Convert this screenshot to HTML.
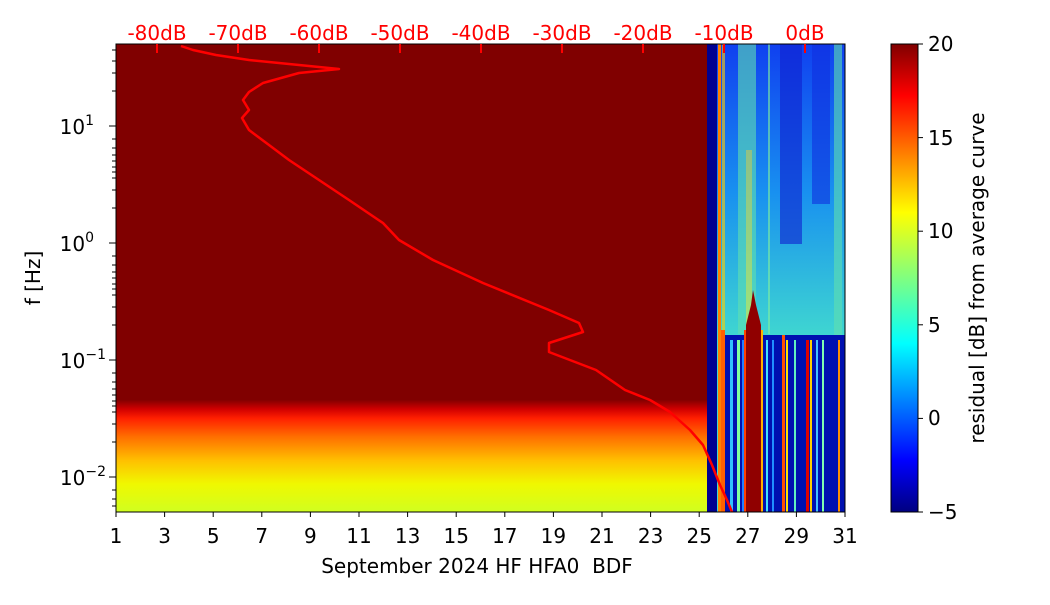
<!DOCTYPE html>
<html><head><meta charset="utf-8"><style>
html,body{margin:0;padding:0;background:#fff;}
svg text{font-family:"DejaVu Sans","Liberation Sans",sans-serif;}
</style></head><body>
<svg width="1050" height="600" xmlns="http://www.w3.org/2000/svg">
<defs>
<linearGradient id="lg" x1="0" y1="44" x2="0" y2="512" gradientUnits="userSpaceOnUse">
<stop offset="0" stop-color="#800000"/>
<stop offset="0.76" stop-color="#800000"/>
<stop offset="0.78" stop-color="#d00000"/>
<stop offset="0.8" stop-color="#ff2000"/>
<stop offset="0.84" stop-color="#ff7000"/>
<stop offset="0.89" stop-color="#ffc000"/>
<stop offset="0.94" stop-color="#f0f800"/>
<stop offset="1" stop-color="#d0ff20"/>
</linearGradient>
<linearGradient id="cb" x1="0" y1="44" x2="0" y2="512" gradientUnits="userSpaceOnUse">
<stop offset="0" stop-color="#800000"/>
<stop offset="0.11" stop-color="#ff0000"/>
<stop offset="0.36" stop-color="#ffff00"/>
<stop offset="0.5" stop-color="#80ff80"/>
<stop offset="0.64" stop-color="#00ffff"/>
<stop offset="0.89" stop-color="#0000ff"/>
<stop offset="1" stop-color="#000080"/>
</linearGradient>
<linearGradient id="up" x1="0" y1="44" x2="0" y2="340" gradientUnits="userSpaceOnUse">
<stop offset="0" stop-color="#1040f0"/>
<stop offset="0.5" stop-color="#1890f0"/>
<stop offset="1" stop-color="#40d8d0"/>
</linearGradient>
</defs>
<rect x="116" y="44" width="592" height="468" fill="url(#lg)"/>
<rect x="707" y="44" width="138" height="468" fill="url(#up)"/>
<rect x="707" y="44" width="10" height="468" fill="#000090"/>
<g opacity="0.6">
<rect x="722" y="44" width="3" height="290" fill="#ffd000"/>
<rect x="738" y="44" width="18" height="290" fill="#60e0b0"/>
<rect x="746" y="150" width="6" height="180" fill="#e0f040"/>
<rect x="768" y="44" width="2" height="290" fill="#80f0a0"/>
<rect x="780" y="44" width="22" height="200" fill="#1020d0"/>
<rect x="812" y="44" width="18" height="160" fill="#1030e0"/>
<rect x="834" y="44" width="8" height="300" fill="#60e0b0"/>
</g>
<rect x="718" y="44" width="3" height="468" fill="#ff8000"/>
<rect x="721" y="335" width="124" height="177" fill="#0010b0"/>
<g>
<rect x="721" y="330" width="4" height="182" fill="#ff6000"/>
<rect x="730" y="340" width="3" height="172" fill="#30c0ff"/>
<rect x="737" y="340" width="3" height="172" fill="#80ffa0"/>
<rect x="742" y="340" width="2" height="172" fill="#2080ff"/>
<polygon points="746,512 746,325 751,305 753,290 756,305 761,325 761,512" fill="#900000"/>
<rect x="744" y="330" width="2" height="182" fill="#ff4000"/>
<rect x="761" y="330" width="2" height="182" fill="#ffb000"/>
<rect x="766" y="340" width="2" height="172" fill="#40e0ff"/>
<rect x="772" y="340" width="2" height="172" fill="#2090ff"/>
<rect x="782" y="335" width="3" height="177" fill="#ff5000"/>
<rect x="786" y="340" width="2" height="172" fill="#ffe000"/>
<rect x="794" y="340" width="2" height="172" fill="#60f0c0"/>
<rect x="806" y="340" width="3" height="172" fill="#e00000"/>
<rect x="810" y="340" width="2" height="172" fill="#ffd000"/>
<rect x="816" y="340" width="2" height="172" fill="#40c0ff"/>
<rect x="822" y="340" width="2" height="172" fill="#80ffb0"/>
<rect x="838" y="340" width="2" height="172" fill="#ff9000"/>
</g>
<polyline fill="none" stroke="#ff0000" stroke-width="2.5" stroke-linejoin="round" points="181,46 193,50 216,55 249,60 299,65 339,69 299,73 263,83 249,92 243,100 249,110 242,118 249,130 269,145 289,160 316,178 349,200 383,223 399,240 433,260 483,283 549,310 579,323 583,332 549,343 549,352 596,370 625,390 650,400 670,412 690,430 703,445 712,465 720,485 727,500 732,512"/>
<rect x="116" y="44" width="729" height="468" fill="none" stroke="#000" stroke-width="1"/>
<g stroke="#ff0000" stroke-width="2">
<line x1="157" y1="44" x2="157" y2="53"/><line x1="238" y1="44" x2="238" y2="53"/><line x1="319" y1="44" x2="319" y2="53"/><line x1="400" y1="44" x2="400" y2="53"/><line x1="481" y1="44" x2="481" y2="53"/><line x1="562" y1="44" x2="562" y2="53"/><line x1="643" y1="44" x2="643" y2="53"/><line x1="724" y1="44" x2="724" y2="53"/><line x1="805" y1="44" x2="805" y2="53"/>
</g>
<g fill="#ff0000" font-size="20" text-anchor="middle">
<text x="157" y="40">-80dB</text><text x="238" y="40">-70dB</text><text x="319" y="40">-60dB</text><text x="400" y="40">-50dB</text><text x="481" y="40">-40dB</text><text x="562" y="40">-30dB</text><text x="643" y="40">-20dB</text><text x="724" y="40">-10dB</text><text x="805" y="40">0dB</text>
</g>
<g stroke="#000" stroke-width="1">
<line x1="116" y1="512" x2="116" y2="517"/><line x1="164.6" y1="512" x2="164.6" y2="517"/><line x1="213.2" y1="512" x2="213.2" y2="517"/><line x1="261.8" y1="512" x2="261.8" y2="517"/><line x1="310.4" y1="512" x2="310.4" y2="517"/><line x1="359" y1="512" x2="359" y2="517"/><line x1="407.6" y1="512" x2="407.6" y2="517"/><line x1="456.2" y1="512" x2="456.2" y2="517"/><line x1="504.8" y1="512" x2="504.8" y2="517"/><line x1="553.4" y1="512" x2="553.4" y2="517"/><line x1="602" y1="512" x2="602" y2="517"/><line x1="650.6" y1="512" x2="650.6" y2="517"/><line x1="699.2" y1="512" x2="699.2" y2="517"/><line x1="747.8" y1="512" x2="747.8" y2="517"/><line x1="796.4" y1="512" x2="796.4" y2="517"/><line x1="845" y1="512" x2="845" y2="517"/>
</g>
<g font-size="20" text-anchor="middle" fill="#000">
<text x="116" y="543">1</text><text x="164.6" y="543">3</text><text x="213.2" y="543">5</text><text x="261.8" y="543">7</text><text x="310.4" y="543">9</text><text x="359" y="543">11</text><text x="407.6" y="543">13</text><text x="456.2" y="543">15</text><text x="504.8" y="543">17</text><text x="553.4" y="543">19</text><text x="602" y="543">21</text><text x="650.6" y="543">23</text><text x="699.2" y="543">25</text><text x="747.8" y="543">27</text><text x="796.4" y="543">29</text><text x="845" y="543">31</text>
<text x="477" y="573" xml:space="preserve">September 2024 HF HFA0  BDF</text>
</g>
<g stroke="#000" stroke-width="1">
<line x1="109" y1="126" x2="116" y2="126"/><line x1="109" y1="243" x2="116" y2="243"/><line x1="109" y1="360" x2="116" y2="360"/><line x1="109" y1="477" x2="116" y2="477"/>
<line x1="112" y1="50" x2="116" y2="50"/><line x1="112" y1="61" x2="116" y2="61"/><line x1="112" y1="73" x2="116" y2="73"/><line x1="112" y1="91" x2="116" y2="91"/>
<line x1="112" y1="139" x2="116" y2="139"/><line x1="112" y1="148" x2="116" y2="148"/><line x1="112" y1="155" x2="116" y2="155"/><line x1="112" y1="161" x2="116" y2="161"/><line x1="112" y1="167" x2="116" y2="167"/><line x1="112" y1="172" x2="116" y2="172"/><line x1="112" y1="178" x2="116" y2="178"/><line x1="112" y1="190" x2="116" y2="190"/><line x1="112" y1="208" x2="116" y2="208"/>
<line x1="112" y1="256" x2="116" y2="256"/><line x1="112" y1="265" x2="116" y2="265"/><line x1="112" y1="272" x2="116" y2="272"/><line x1="112" y1="278" x2="116" y2="278"/><line x1="112" y1="284" x2="116" y2="284"/><line x1="112" y1="289" x2="116" y2="289"/><line x1="112" y1="295" x2="116" y2="295"/><line x1="112" y1="307" x2="116" y2="307"/><line x1="112" y1="325" x2="116" y2="325"/>
<line x1="112" y1="373" x2="116" y2="373"/><line x1="112" y1="382" x2="116" y2="382"/><line x1="112" y1="389" x2="116" y2="389"/><line x1="112" y1="395" x2="116" y2="395"/><line x1="112" y1="401" x2="116" y2="401"/><line x1="112" y1="406" x2="116" y2="406"/><line x1="112" y1="412" x2="116" y2="412"/><line x1="112" y1="424" x2="116" y2="424"/><line x1="112" y1="442" x2="116" y2="442"/>
<line x1="112" y1="490" x2="116" y2="490"/><line x1="112" y1="499" x2="116" y2="499"/><line x1="112" y1="506" x2="116" y2="506"/>
</g>
<g font-size="20" text-anchor="end" fill="#000">
<text x="94" y="134">10<tspan dy="-9" font-size="14">1</tspan></text>
<text x="94" y="251">10<tspan dy="-9" font-size="14">0</tspan></text>
<text x="106" y="368">10<tspan dy="-9" font-size="14">−1</tspan></text>
<text x="106" y="485">10<tspan dy="-9" font-size="14">−2</tspan></text>
</g>
<text x="40" y="278" font-size="20" text-anchor="middle" transform="rotate(-90 40 278)">f [Hz]</text>
<rect x="891" y="44" width="27" height="468" fill="url(#cb)" stroke="#000" stroke-width="1"/>
<g stroke="#000"><line x1="918" y1="44" x2="923" y2="44"/><line x1="918" y1="137.6" x2="923" y2="137.6"/><line x1="918" y1="231.2" x2="923" y2="231.2"/><line x1="918" y1="324.8" x2="923" y2="324.8"/><line x1="918" y1="418.4" x2="923" y2="418.4"/><line x1="918" y1="512" x2="923" y2="512"/></g>
<g font-size="20" fill="#000">
<text x="928" y="51">20</text><text x="928" y="145">15</text><text x="928" y="238">10</text><text x="928" y="332">5</text><text x="928" y="425">0</text><text x="928" y="519">−5</text>
</g>
<text x="984" y="278" font-size="20" text-anchor="middle" transform="rotate(-90 984 278)">residual [dB] from average curve</text>
</svg>
</body></html>
